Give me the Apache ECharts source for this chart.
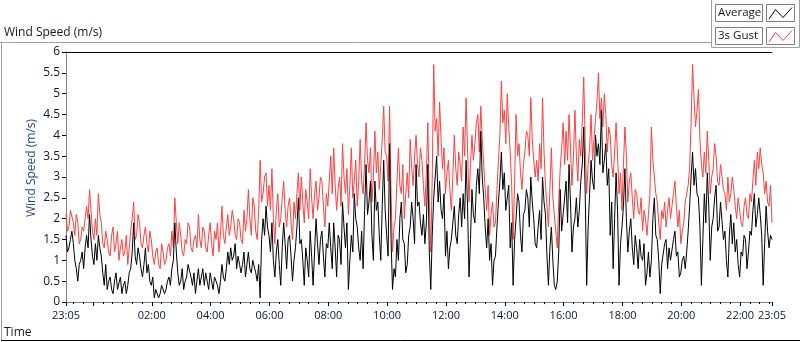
<!DOCTYPE html>
<html>
<head>
<meta charset="utf-8">
<script src="https://cdn.jsdelivr.net/npm/echarts@6/dist/echarts.min.js"></script>
<style>
html,body{margin:0;padding:0;background:#fff;}
#chart{width:800px;height:342px;}
</style>
</head>
<body>
<div id="chart"></div>
<script>
// sample interval (minutes) and start time of record (23:05)
const stepMinutes = 3;
const startClock = 23 * 60 + 5;
const spanMinutes = 1440;

// 3s gust (m/s), 23:05 -> 07:05
const gustNight = [2.1,1.7,1.8,2.2,2.2,1.9,1.6,2.1,1.9,1.4,1.5,1.8,1.7,2.0,2.3,2.0,2.7,2.2,1.7,1.5,
2.0,1.6,2.6,2.1,1.9,1.4,1.3,1.7,1.5,1.2,1.1,1.6,1.8,1.2,1.4,1.7,1.0,1.3,1.5,1.1,
1.2,1.6,0.9,1.3,1.7,2.0,2.4,1.5,1.6,2.1,1.9,1.4,1.3,1.6,1.8,1.4,1.2,1.7,1.5,1.1,
0.9,1.2,1.3,0.9,0.8,1.4,1.2,0.9,1.0,1.3,1.4,1.1,1.7,1.3,2.5,1.9,1.4,1.9,1.6,1.2,
1.1,1.5,1.4,1.9,1.8,1.3,1.2,1.5,1.6,1.3,2.1,1.5,1.3,1.8,1.7,1.3,1.2,1.6,1.9,1.4,
1.1,1.7,1.5,1.9,1.2,1.6,2.3,1.6,1.4,1.8,2.1,1.6,1.8,2.2,2.0,1.6,1.5,2.0,1.9,1.5,
1.4,2.2,1.7,2.0,2.7,2.0,1.6,2.5,2.3,1.7,1.5,2.2,3.4,2.4,2.6,3.0,3.1,2.3,2.8,2.2,
3.2,2.0,1.4,2.2,2.6,1.8,2.0,2.5,2.9,2.2,1.8,2.3,2.5,1.9,1.5,2.4,2.0,2.6,3.1,2.2];
// 3s gust, 07:05 -> 15:05
const gustDay = [3.0,2.4,1.9,2.7,2.4,2.0,3.2,2.5,2.0,2.6,2.9,2.2,2.5,3.0,2.9,2.3,1.8,2.6,2.3,2.9,
3.5,2.6,3.7,2.8,2.2,2.7,3.0,2.3,3.8,3.0,2.6,3.2,2.1,2.8,3.7,2.5,2.9,3.4,2.3,2.9,
3.9,2.9,2.6,3.3,4.3,3.4,3.1,3.7,2.4,3.0,4.1,3.1,3.6,2.7,3.3,3.9,4.7,3.6,3.5,2.9,
4.7,2.6,1.2,1.8,2.0,2.9,3.7,2.8,2.6,3.3,2.0,2.6,3.1,2.5,3.9,3.2,2.8,3.5,4.0,3.3,
3.0,3.7,3.4,2.8,2.3,3.1,4.3,2.5,1.2,3.0,5.7,4.1,4.4,3.5,4.8,3.9,3.2,3.7,2.6,3.1,
3.4,2.7,2.2,3.0,4.0,3.2,2.8,3.6,3.3,2.9,4.2,3.5,4.9,3.7,2.4,3.3,4.0,3.4,3.8,4.3,
4.5,3.6,4.7,3.9,3.3,2.7,2.2,2.8,1.6,2.1,2.4,1.8,1.9,2.7,3.4,4.0,5.3,4.3,4.6,3.8,
5.0,4.2,3.6,2.8,1.5,2.9,4.5,3.5,3.8,3.1,2.7,3.3,3.6,4.1,4.0,3.5,4.9,3.9,3.4,3.0];
// 3s gust, 15:05 -> 23:05
const gustEvening = [3.4,2.9,3.8,3.2,4.9,3.6,2.8,2.3,1.8,2.7,3.7,2.5,2.1,1.7,1.3,2.4,3.2,3.7,4.3,3.3,
4.1,3.4,4.5,3.7,2.8,3.5,4.6,3.5,2.9,3.9,3.5,4.3,5.4,3.8,2.6,3.3,3.7,4.5,3.4,3.9,
4.4,4.8,5.5,4.4,4.9,4.2,5.0,4.5,3.6,4.2,4.0,3.3,3.0,3.6,4.3,3.5,2.6,3.1,2.2,3.3,
4.2,3.5,2.4,2.9,3.1,2.5,2.0,2.7,2.6,2.2,2.1,2.5,1.7,2.2,2.0,1.6,2.1,2.6,4.2,3.4,
3.0,2.6,2.4,1.9,1.5,2.2,2.0,2.4,1.8,2.2,2.5,2.0,2.3,2.6,2.9,2.3,1.8,2.2,1.4,1.7,
1.9,2.4,2.4,2.8,3.2,4.3,5.7,4.9,4.2,4.6,5.1,3.9,3.3,3.0,3.6,3.1,4.1,3.4,2.6,3.0,
3.2,3.8,3.5,2.9,2.8,3.3,3.3,2.7,2.6,2.2,3.0,2.4,2.6,3.0,2.7,2.3,2.0,2.5,2.2,1.9,
1.8,2.3,2.5,2.1,2.0,2.6,2.4,2.9,3.4,2.8,3.6,3.2,3.7,3.3,3.1,2.6,2.9,2.4,2.3,2.8,
1.9];

// average wind speed (m/s)
const avgNight = [1.6,1.2,1.3,1.5,1.7,1.4,1.0,0.8,0.5,0.9,1.0,1.2,0.8,1.3,1.6,1.3,2.1,1.5,1.1,0.9,
1.4,1.0,1.6,1.3,1.1,0.7,0.4,0.9,0.3,0.5,0.6,0.3,0.2,0.5,0.7,0.3,0.3,0.6,0.2,0.4,
0.5,0.2,0.4,0.7,0.8,1.2,1.9,1.1,0.9,1.3,1.1,0.8,0.6,0.9,1.3,0.7,0.9,0.5,0.4,0.6,
0.1,0.3,0.3,0.1,0.2,0.4,0.4,0.2,0.3,0.5,0.6,0.4,0.8,1.0,1.9,1.2,0.7,0.4,0.5,0.8,
0.3,0.5,0.6,0.9,0.9,0.6,0.4,0.7,0.2,0.5,0.8,0.4,0.6,0.8,0.4,0.7,0.5,0.3,0.7,0.5,
0.3,0.6,0.6,0.4,0.2,0.5,0.9,0.6,0.5,0.8,1.2,0.9,1.3,1.0,1.1,1.4,0.8,1.1,0.9,0.7,
0.9,1.2,0.6,0.9,1.2,0.8,0.7,1.0,1.0,0.7,0.5,0.9,0.1,1.5,2.0,1.6,2.3,1.8,1.6,1.2,
1.9,1.0,0.6,1.2,1.5,0.9,0.4,1.3,1.9,1.4,0.8,1.5,1.6,1.1,0.5,1.0,1.3,1.8,2.5,1.4];
const avgDay = [1.5,1.0,0.4,1.3,1.0,0.6,1.7,1.1,0.4,1.2,2.0,1.4,0.9,1.5,1.7,1.1,0.6,1.4,1.3,1.9,
1.3,0.8,1.9,1.3,0.6,1.6,1.5,0.9,2.4,1.8,1.3,1.9,0.3,1.0,1.6,1.2,2.6,2.0,1.8,1.3,
1.0,1.7,0.8,2.2,3.3,2.1,2.4,2.9,1.6,1.0,2.9,2.2,2.4,1.6,1.0,2.3,3.4,2.2,1.6,1.1,
3.8,1.5,0.3,0.8,0.6,1.5,1.0,2.0,2.4,1.5,1.4,0.7,0.9,1.6,1.8,2.4,2.0,1.4,3.3,2.3,
2.4,1.9,1.6,2.1,1.4,1.9,3.3,1.2,0.3,1.6,2.5,3.0,3.5,2.4,2.9,2.2,2.0,2.6,1.1,1.7,
0.8,1.3,1.5,1.9,2.3,1.6,1.4,2.1,2.5,1.8,2.6,2.0,3.4,2.3,0.6,1.5,2.7,2.1,1.9,2.8,
3.2,2.6,4.1,3.0,2.5,1.8,1.3,2.0,1.0,1.4,0.4,1.0,1.1,1.8,2.4,2.9,3.6,2.7,3.1,2.2,
2.2,2.8,1.3,1.9,0.4,1.5,2.0,2.6,2.4,1.6,1.2,2.1,2.2,2.7,2.5,1.8,3.0,2.4,2.0,1.4];
const avgEvening = [1.3,1.8,2.2,1.5,3.0,2.4,2.1,1.1,0.4,1.3,1.8,1.0,0.4,0.3,0.5,1.2,2.7,1.7,2.1,2.5,
2.9,1.9,3.3,2.4,1.2,1.8,2.0,2.5,1.8,2.2,2.9,3.3,4.2,2.6,0.4,1.8,2.6,3.4,2.9,2.7,
4.0,3.5,3.8,3.3,4.6,3.1,3.4,3.8,2.8,3.2,1.6,2.4,0.8,2.0,3.1,2.2,0.4,1.4,1.8,2.3,
3.2,2.0,1.2,1.7,2.0,1.3,0.9,1.6,1.3,0.8,1.5,1.1,1.0,1.4,0.4,0.7,1.2,0.6,1.0,2.0,
2.5,1.6,1.5,1.0,0.2,0.9,0.9,1.4,1.5,0.8,1.3,1.0,1.0,1.5,1.7,1.1,1.2,0.6,0.7,1.0,
1.1,0.8,1.2,1.7,2.3,3.0,3.6,2.8,3.2,2.6,2.5,1.8,0.4,1.5,2.6,1.9,3.1,2.3,1.0,1.8,
2.0,2.5,2.8,1.7,1.8,2.4,2.4,1.5,1.7,1.0,0.6,1.6,2.1,1.4,1.9,1.2,1.5,0.9,0.6,1.2,
1.1,1.6,1.5,0.8,1.2,1.7,1.6,2.2,2.6,1.8,2.1,2.5,2.1,1.6,0.4,1.4,2.3,1.7,1.3,1.6,
1.5];

// time-axis labels (clock times) and y ticks
const timeLabels = ['23:05','02:00','04:00','06:00','08:00','10:00','12:00','14:00','16:00','18:00','20:00','22:00','23:05'];
const majorTickClock = ['23:05','00:00','02:00','04:00','06:00','08:00','10:00','12:00','14:00','16:00','18:00','20:00','22:00','23:05'];
const yMin = 0, yMax = 6, yStep = 0.5;

function clockToOffset(s, isEnd) {
  const p = s.split(':');
  let m = (+p[0]) * 60 + (+p[1]) - startClock;
  if (m < 0) m += 1440;
  if (isEnd) m = spanMinutes;
  return m;
}
function offsetToClock(v) {
  let m = Math.round(v + startClock) % 1440;
  const h = Math.floor(m / 60), mm = m % 60;
  return String(h).padStart(2, '0') + ':' + String(mm).padStart(2, '0');
}
const labelValues = timeLabels.map((s, i) => clockToOffset(s, i === timeLabels.length - 1));
const majorValues = majorTickClock.map((s, i) => clockToOffset(s, i === majorTickClock.length - 1));
const minorValues = [];
for (let m = 15; m < spanMinutes; m += 20) minorValues.push(m);

const gust = gustNight.concat(gustDay, gustEvening);
const avg = avgNight.concat(avgDay, avgEvening);
const gustData = gust.map((v, i) => [i * stepMinutes, v]);
const avgData = avg.map((v, i) => [i * stepMinutes, v]);

const FONT = 'Open Sans';
const LABEL = '#0c1838';
const TXT = '#101828';

const chart = echarts.init(document.getElementById('chart'), null, {renderer: 'canvas'});
chart.setOption({
  animation: false,
  backgroundColor: '#fff',
  grid: {left: 66, right: 28, top: 52, bottom: 40, containLabel: false},
  xAxis: [
    {
      type: 'value', min: 0, max: spanMinutes, position: 'bottom',
      axisLine: {show: true, lineStyle: {color: '#808080', width: 1}},
      axisTick: {show: true, customValues: majorValues, length: 4, lineStyle: {color: '#000'}},
      axisLabel: {show: true, customValues: labelValues, formatter: v => offsetToClock(v),
        color: LABEL, fontFamily: FONT, fontSize: 11, margin: 8, hideOverlap: false, showMinLabel: true, showMaxLabel: true},
      splitLine: {show: false}
    },
    {
      type: 'value', min: 0, max: spanMinutes, position: 'bottom',
      axisLine: {show: false},
      axisTick: {show: true, customValues: minorValues, length: 2, lineStyle: {color: '#000'}},
      axisLabel: {show: false},
      splitLine: {show: false}
    },
    {
      type: 'value', min: 0, max: spanMinutes, position: 'top',
      axisLine: {show: true, lineStyle: {color: '#000', width: 1}},
      axisTick: {show: false}, axisLabel: {show: false}, splitLine: {show: false}
    }
  ],
  yAxis: [
    {
      type: 'value', min: yMin, max: yMax, interval: yStep, position: 'left',
      axisLine: {show: true, lineStyle: {color: '#000', width: 1}},
      axisTick: {show: true, length: 4, lineStyle: {color: '#000'}},
      axisLabel: {color: LABEL, fontFamily: FONT, fontSize: 12, margin: 6},
      splitLine: {show: false}
    },
    {
      type: 'value', min: yMin, max: yMax, position: 'right',
      axisLine: {show: true, lineStyle: {color: '#808080', width: 1}},
      axisTick: {show: false}, axisLabel: {show: false}, splitLine: {show: false}
    }
  ],
  series: [
    {
      name: '3s Gust', type: 'line', xAxisIndex: 0, yAxisIndex: 0,
      data: gustData, showSymbol: false, symbol: 'none', z: 2,
      lineStyle: {color: '#ff4040', width: 1}, itemStyle: {color: '#ff4040'}
    },
    {
      name: 'Average', type: 'line', xAxisIndex: 0, yAxisIndex: 0,
      data: avgData, showSymbol: false, symbol: 'none', z: 3,
      lineStyle: {color: '#000', width: 1}, itemStyle: {color: '#000'}
    }
  ],
  graphic: [
    // outer panel frame
    {type: 'line', shape: {x1: 0, y1: 42.5, x2: 711, y2: 42.5}, style: {stroke: '#a0a0a0', lineWidth: 1}, silent: true},
    {type: 'line', shape: {x1: 1.5, y1: 42, x2: 1.5, y2: 341}, style: {stroke: '#a0a0a0', lineWidth: 1}, silent: true},
    {type: 'line', shape: {x1: 1, y1: 340.5, x2: 800, y2: 340.5}, style: {stroke: '#000', lineWidth: 1}, silent: true},
    // panel title
    {type: 'text', left: 4, top: 27, style: {text: 'Wind Speed (m/s)', fill: TXT, font: '12px "' + FONT + '"'}},
    // y-axis name
    {type: 'text', x: 32, y: 168, rotation: Math.PI / 2,
      style: {text: 'Wind Speed (m/s)', fill: '#1f4a8a', font: '12px "' + FONT + '"', align: 'center', verticalAlign: 'middle'}},
    // x-axis name
    {type: 'text', left: 4, top: 327, style: {text: 'Time', fill: TXT, font: '12px "' + FONT + '"'}},
    // legend panel
    {type: 'rect', shape: {x: 711.5, y: -1, width: 88, height: 48.5}, style: {fill: '#fff', stroke: '#a0a0a0', lineWidth: 1}, silent: true},
    {type: 'rect', shape: {x: 715.5, y: 4.5, width: 47, height: 17}, style: {fill: '#fff', stroke: '#808080', lineWidth: 1}},
    {type: 'text', x: 718, y: 13, style: {text: 'Average', fill: TXT, font: '11.5px "' + FONT + '"', verticalAlign: 'middle'}},
    {type: 'rect', shape: {x: 766.5, y: 4.5, width: 28, height: 17}, style: {fill: '#fff', stroke: '#808080', lineWidth: 1}},
    {type: 'polyline', shape: {points: [[769, 19], [775.5, 9.5], [783, 17.5], [792, 7.5]]}, style: {stroke: '#000', lineWidth: 1, fill: null}},
    {type: 'rect', shape: {x: 715.5, y: 27.5, width: 47, height: 17}, style: {fill: '#fff', stroke: '#808080', lineWidth: 1}},
    {type: 'text', x: 718, y: 36, style: {text: '3s Gust', fill: TXT, font: '11.5px "' + FONT + '"', verticalAlign: 'middle'}},
    {type: 'rect', shape: {x: 766.5, y: 27.5, width: 28, height: 17}, style: {fill: '#fff', stroke: '#808080', lineWidth: 1}},
    {type: 'polyline', shape: {points: [[769, 42], [775.5, 32.5], [783, 40.5], [792, 30.5]]}, style: {stroke: '#ff4040', lineWidth: 1, fill: null}}
  ]
});
</script>
</body>
</html>
